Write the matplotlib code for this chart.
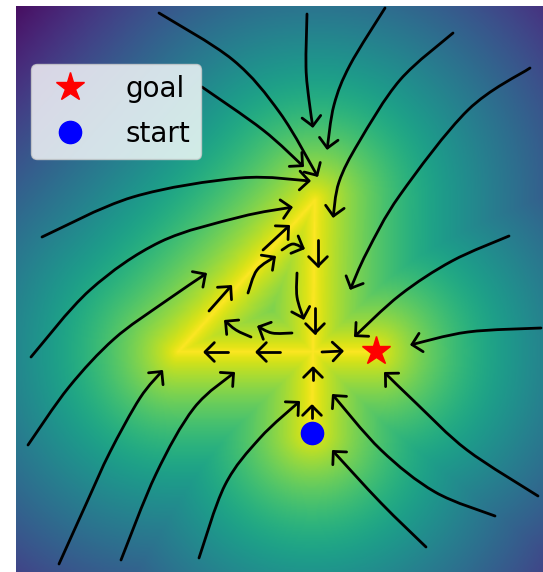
import numpy as np
import matplotlib
matplotlib.use('Agg')
import matplotlib.pyplot as plt
from matplotlib.path import Path
from matplotlib.patches import FancyArrowPatch

# everything is in image coords (x right, y down), matching the picture
x_range = (16, 543)
y_range = (6, 572)

# strokes of the "4" that the field is built around
stroke_segments = [
    ((178, 352), (315, 200)),
    ((315, 200), (312, 433)),
    ((178, 352), (376, 352)),
]
falloff = 370.0

goal = (376, 351)
start = (312, 433)

# flow arrows, each a list of points along the curve (last point = tip)
outer_arrows = [
    [(159, 13), (233, 60), (280, 113), (318, 177)],
    [(202, 87), (263, 130), (304, 167)],
    [(42, 237), (133, 197), (240, 178), (311, 181)],
    [(31, 357), (90, 290), (160, 242), (240, 217), (293, 207)],
    [(28, 445), (69, 387), (114, 339), (163, 303), (207, 273)],
    [(59, 564), (87, 502), (110, 452), (140, 398), (163, 370)],
    [(121, 560), (156, 474), (194, 408), (235, 372)],
    [(199, 558), (225, 485), (260, 438), (300, 401)],
    [(307, 14), (306, 67), (309, 100), (313, 128)],
    [(385, 8), (350, 65), (334, 105), (327, 150)],
    [(453, 33), (400, 80), (359, 142), (339, 182), (333, 218)],
    [(530, 68), (468, 110), (400, 195), (367, 252), (350, 290)],
    [(509, 236), (452, 261), (400, 295), (354, 337)],
    [(541, 328), (468, 332), (410, 345)],
    [(538, 496), (467, 450), (417, 404), (384, 372)],
    [(495, 516), (435, 492), (381, 450), (332, 394)],
    [(426, 547), (381, 503), (332, 450)],
]
inner_arrows = [
    [(263, 250), (290, 225)],
    [(282, 250), (293, 244), (305, 249)],
    [(318, 240), (318, 268)],
    [(248, 293), (257, 270), (276, 256)],
    [(209, 311), (232, 285)],
    [(297, 273), (297, 297), (304, 320)],
    [(315, 308), (315, 335)],
    [(292, 333), (272, 333), (257, 326)],
    [(251, 337), (236, 330), (224, 320)],
    [(280, 352), (255, 352)],
    [(228, 352), (203, 352)],
    [(322, 352), (344, 351)],
    [(313, 380), (313, 366)],
    [(312, 418), (312, 404)],
]


def seg_dist(px, py, a, b):
    ax_, ay_ = a
    bx, by = b
    dx, dy = bx - ax_, by - ay_
    t = ((px - ax_) * dx + (py - ay_) * dy) / (dx * dx + dy * dy)
    t = np.clip(t, 0, 1)
    return np.hypot(px - (ax_ + t * dx), py - (ay_ + t * dy))


def smooth_path(pts):
    pts = np.asarray(pts, float)
    if len(pts) == 2:
        return Path(pts)
    p = np.vstack([pts[0], pts, pts[-1]])
    verts = [pts[0]]
    codes = [Path.MOVETO]
    for i in range(1, len(p) - 2):
        c1 = p[i] + (p[i + 1] - p[i - 1]) / 6
        c2 = p[i + 1] - (p[i + 2] - p[i]) / 6
        verts += [c1, c2, p[i + 1]]
        codes += [Path.CURVE4] * 3
    return Path(verts, codes)


xs = np.linspace(x_range[0], x_range[1], 400)
ys = np.linspace(y_range[0], y_range[1], 430)
X, Y = np.meshgrid(xs, ys)
d = np.min([seg_dist(X, Y, a, b) for a, b in stroke_segments], axis=0)
field = np.clip(1 - (d / falloff) ** 0.75, 0, 1)

fig = plt.figure(figsize=(5.43, 5.72), dpi=100)
ax = fig.add_axes([16 / 543, 0, 527 / 543, 566 / 572])
ax.imshow(field, cmap='viridis', vmin=0, vmax=1, origin='upper',
          extent=(x_range[0], x_range[1], y_range[1], y_range[0]),
          interpolation='bilinear', aspect='auto')

for pts in outer_arrows + inner_arrows:
    arr = FancyArrowPatch(path=smooth_path(pts),
                          arrowstyle='->,head_length=0.45,head_width=0.45',
                          mutation_scale=15, lw=2, color='black')
    ax.add_patch(arr)

ax.plot(*goal, marker='*', color='red', ms=21, ls='none', label='goal')
ax.plot(*start, marker='o', color='blue', ms=16, ls='none', label='start')

ax.set_xlim(*x_range)
ax.set_ylim(y_range[1], y_range[0])
ax.axis('off')
ax.legend(loc='upper left', bbox_to_anchor=(15 / 527, 1 - 58 / 566),
          borderaxespad=0, fontsize=20, handletextpad=1.0, labelspacing=0.6)

fig.savefig('out.png', dpi=100)
